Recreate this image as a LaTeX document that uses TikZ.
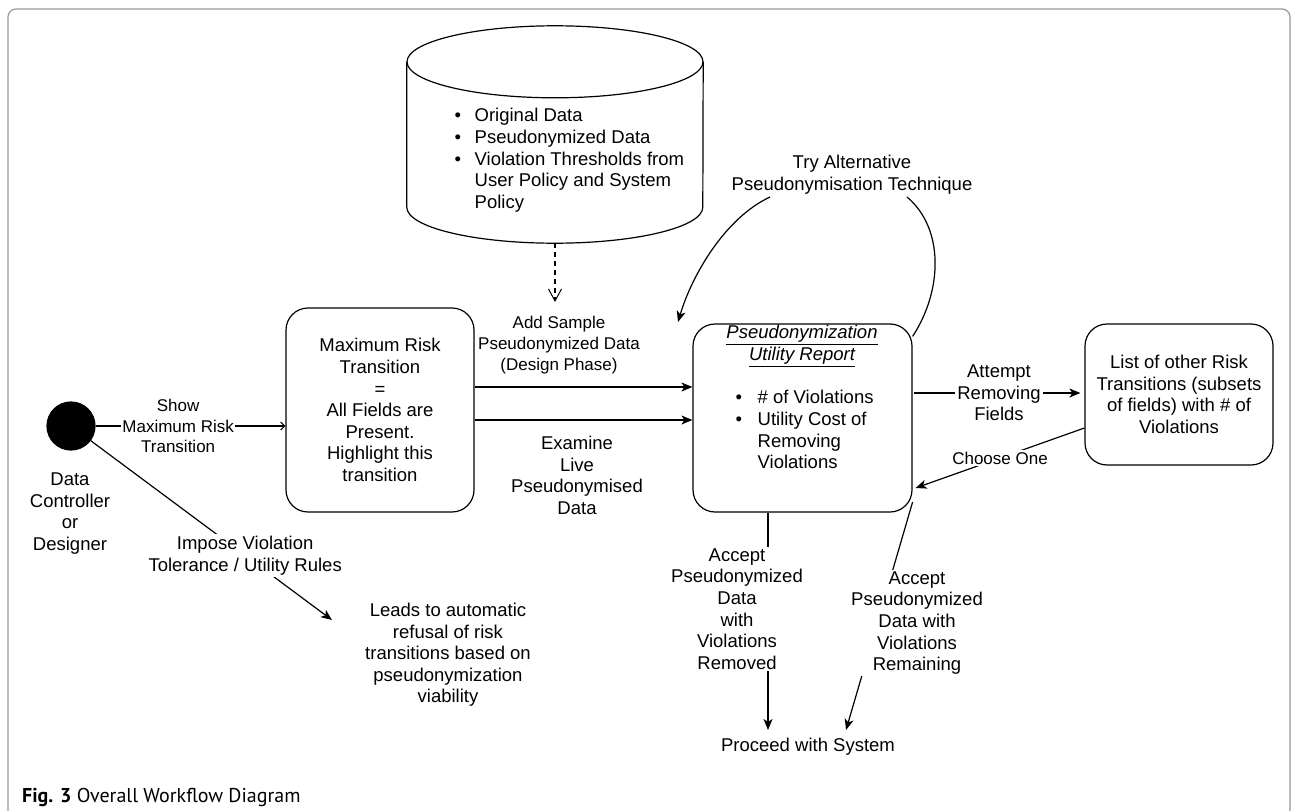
\documentclass[tikz,border=0pt]{standalone}
\usepackage{fontspec}
\setmainfont{Liberation Sans}
\newfontfamily\capfont{PT Sans}
\usetikzlibrary{arrows.meta,calc}
\definecolor{framegray}{HTML}{999999}
\begin{document}
\begin{tikzpicture}[x=1pt,y=-1pt,
  txt/.style={font=\fontsize{18.5}{21.6}\selectfont, align=center, inner sep=0pt},
  smalltxt/.style={font=\fontsize{17}{20.8}\selectfont, align=center, inner sep=1.5pt},
  box/.style={draw, line width=1.2, rounded corners=22, inner sep=0pt},
  ln/.style={line width=1.2},
  arr/.style={ln, -{Stealth[length=11,width=9,inset=3]}},
  lab/.style={txt, fill=white, inner sep=2pt}]
\useasboundingbox (0,0) rectangle (1294,811);
\fill[white] (0,0) rectangle (1294,811);
\draw[line width=1.2, draw=framegray, rounded corners=8] (8,840) -- (8,9) -- (1290,9) -- (1290,840);

% database cylinder
\node[minimum width=296, minimum height=217, inner sep=0pt] (db) at (555,134.5) {};
\draw[ln] ($(db.north)+(0,36)$) ellipse[x radius=148, y radius=36];
\draw[ln] ($(db.north west)+(0,36)$) -- ($(db.south west)+(0,-36)$)
   arc[start angle=180, end angle=0, x radius=148, y radius=36] -- ($(db.north east)+(0,36)$);
\node[txt, anchor=north west, align=left] (dbtext) at (454.5,106.6) {%
\begin{tabular}{@{}l@{\hspace{13.5pt}}l@{}}
\textbullet & Original Data\\
\textbullet & Pseudonymized Data\\
\textbullet & Violation Thresholds from\\
 & User Policy and System\\
 & Policy
\end{tabular}};

% nodes
\node[circle, fill=black, draw, line width=1.2, minimum size=48, inner sep=0pt] (dc) at (71,426) {};
\node[txt] (dclab) at (70,513.5) {Data\\Controller\\or\\Designer};

\node[box, txt, minimum width=188, minimum height=204] (max) at (380,410)
 {Maximum Risk\\Transition\\=\\All Fields are\\Present.\\Highlight this\\transition};

\node[box, minimum width=219, minimum height=188] (rep) at (802.5,418) {};
\node[txt] (reptitle) at (802,346) {\textit{\underline{Pseudonymization}}\\\textit{\underline{Utility Report}}};
\node[txt, anchor=north west, align=left] (replist) at (735.5,388.6) {%
\begin{tabular}{@{}l@{\hspace{15.5pt}}l@{}}
\textbullet & \# of Violations\\
\textbullet & Utility Cost of\\
 & Removing\\
 & Violations
\end{tabular}};

\node[box, txt, minimum width=188, minimum height=141] (lst) at (1179,394.5)
 {List of other Risk\\Transitions (subsets\\of fields) with \# of\\Violations};

\node[txt] (leads) at (448,655) {Leads to automatic\\refusal of risk\\transitions based on\\pseudonymization\\viability};
\node[txt] (proc) at (808,747) {Proceed with System};
\node[txt] (try) at (852,175) {Try Alternative\\Pseudonymisation Technique};

\node[anchor=west, inner sep=0pt, font=\capfont\fontsize{20}{22}\selectfont] (cap) at (22,797)
 {\textbf{Fig. 3} Overall Workflow Diagram};

% connectors
\coordinate (dbarrow) at (555,302);
\draw[ln, dashed, dash pattern=on 5pt off 4pt, -{Straight Barb[length=12,width=13,line width=1]}] (db.south) -- (dbarrow);

\draw[ln, -{Straight Barb[length=4,width=8,line width=1]}] (dc.east) -- (dc.east -| max.west)
  node[pos=0.435, smalltxt, fill=white] (showlab) {Show\\Maximum Risk\\Transition};

\draw[arr] ($(max.east)+(0,-23)$) -- ($(rep.west)+(0,-31)$);
\draw[arr] ($(max.east)+(0,10)$) -- ($(rep.west)+(0,2)$);
\node[smalltxt] (addlab) at (559,345) {Add Sample\\Pseudonymized Data\\(Design Phase)};
\node[txt] (exlab) at (577,475.5) {Examine\\Live\\Pseudonymised\\Data};

\draw[arr, shorten >=4pt] ($(rep.east)+(1,-25)$) -- ($(lst.west)+(0,-1.5)$)
  node[midway, lab] (attlab) {Attempt\\Removing\\Fields};

\draw[arr] ($(lst.west)+(0,33.5)$) -- ($(rep.east)+(3,70)$)
  node[midway, smalltxt, fill=white] (chlab) {Choose One};

\coordinate (loopA) at (907,197);
\coordinate (loopB) at (770,197);
\coordinate (loopend) at (678,322);
\draw[ln] ($(rep.north east)+(0,13)$) .. controls (943,290) and (944,228) .. (loopA);
\draw[arr] (loopB) .. controls (725,218) and (692,275) .. (loopend);

\coordinate (procA) at (768,730);
\coordinate (procB) at (846,730);
\draw[arr] ($(rep.south)+(-34.5,0)$) -- (procA);
\node[lab] (accrem) at (737,609) {Accept\\Pseudonymized\\Data\\with\\Violations\\Removed};
\draw[arr] ($(rep.east)+(0,84)$) -- (procB);
\node[lab] (accrest) at (917,623) {Accept\\Pseudonymized\\Data with\\Violations\\Remaining};

\coordinate (leadsin) at (332,620);
\draw[arr] (dc) -- (leadsin) node[pos=0.64, lab] (implab) {Impose Violation\\Tolerance / Utility Rules};
\end{tikzpicture}
\end{document}
